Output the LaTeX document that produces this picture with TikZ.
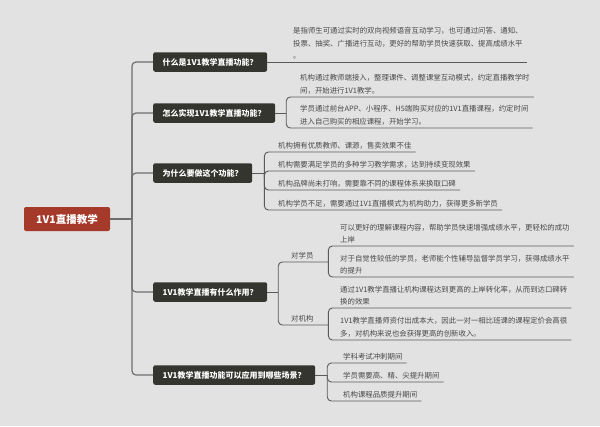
\documentclass[tikz,border=0pt]{standalone}
\usepackage{fontspec}
\setmainfont{Noto Sans CJK SC}
\definecolor{bgcol}{HTML}{E2E2E2}
\definecolor{rootcol}{HTML}{A63A2A}
\definecolor{branchcol}{HTML}{35352F}
\definecolor{linecol}{HTML}{6E6E6E}
\definecolor{leafline}{HTML}{5A5A5A}
\definecolor{leaftext}{HTML}{484848}
\begin{document}
\begin{tikzpicture}[x=1pt, y=-1pt,
    root/.style={fill=rootcol, text=white, rounded corners=2pt, minimum width=86pt, minimum height=24pt, font=\fontsize{10.5}{12}\selectfont\bfseries},
    branch/.style={anchor=west, fill=branchcol, text=white, rounded corners=2pt, inner xsep=9.5pt, minimum height=19.5pt, font=\fontsize{8}{10}\selectfont\bfseries},
    leaf/.style={anchor=south west, inner xsep=4pt, inner ysep=2.5pt, align=left, text=leaftext, font=\fontsize{7.4}{12.6}\selectfont},
    trunk/.style={draw=linecol, line width=1.2pt, rounded corners=4pt},
    twig/.style={draw=leafline, line width=0.9pt, rounded corners=4pt}]

    \fill[bgcol] (0,0) rectangle (600,426);
    \useasboundingbox (0,0) rectangle (600,426);

    \node[root] (root) at (67,219) {1V1直播教学};
    \coordinate (hub) at (132,219);

    \node[branch] (b1) at (153,62) {什么是1V1教学直播功能？};
    \node[branch] (b2) at (153,113) {怎么实现1V1教学直播功能？};
    \node[branch] (b3) at (153,173) {为什么要做这个功能？};
    \node[branch] (b4) at (153,292) {1V1教学直播有什么作用？};
    \node[branch] (b5) at (153,375) {1V1教学直播功能可以应用到哪些场景？};

    \draw[trunk] (root.east) -- (hub);
    \foreach \b in {b1,b2,b3,b4,b5} {
      \draw[trunk] (hub) |- (\b.west);
    }

    \node[leaf] (l11) at (289,62) {是指师生可通过实时的双向视频语音互动学习，也可通过问答、通知、\\投票、抽奖、广播进行互动，更好的帮助学员快速获取、提高成绩水平\\。};
    \draw[twig] (b1.east) -- (l11.south east);

    \coordinate (k2) at ([xshift=11pt]b2.east);
    \node[leaf] (l21) at (296,97) {机构通过教师端接入，整理课件、调整课堂互动模式，约定直播教学时\\间，开始进行1V1教学。};
    \node[leaf] (l22) at (296,128) {学员通过前台APP、小程序、H5端购买对应的1V1直播课程，约定时间\\进入自己购买的相应课程，开始学习。};
    \draw[twig] (b2.east) -- (k2);
    \foreach \l in {l21,l22} {
      \draw[twig] (k2) |- (\l.south east);
    }

    \coordinate (k3) at ([xshift=12pt]b3.east);
    \node[leaf] (l31) at (274,152) {机构拥有优质教师、课源，售卖效果不佳};
    \node[leaf] (l32) at (274,171) {机构需要满足学员的多种学习教学需求，达到持续变现效果};
    \node[leaf] (l33) at (274,190) {机构品牌尚未打响，需要靠不同的课程体系来换取口碑};
    \node[leaf] (l34) at (274,210) {机构学员不足，需要通过1V1直播模式为机构助力，获得更多新学员};
    \draw[twig] (b3.east) -- (k3);
    \foreach \l in {l31,l32,l33,l34} {
      \draw[twig] (k3) |- (\l.south east);
    }

    \coordinate (k4) at ([xshift=11pt]b4.east);
    \node[leaf, text width=33pt] (s41) at (287,262) {对学员};
    \node[leaf, text width=33pt] (s42) at (287,325) {对机构};
    \draw[twig] (b4.east) -- (k4);
    \draw[twig] (k4) |- (s41.south east);
    \draw[twig] (k4) |- (s42.south east);

    \node[leaf] (l411) at (336,246) {可以更好的理解课程内容，帮助学员快速增强成绩水平，更轻松的成功\\上岸};
    \node[leaf] (l412) at (336,277) {对于自觉性较低的学员，老师能个性辅导监督学员学习，获得成绩水平\\的提升};
    \foreach \l in {l411,l412} {
      \draw[twig] (s41.south east) |- (\l.south east);
    }

    \node[leaf] (l421) at (336,308) {通过1V1教学直播让机构课程达到更高的上岸转化率，从而到达口碑转\\换的效果};
    \node[leaf] (l422) at (336,340) {1V1教学直播师资付出成本大，因此一对一相比班课的课程定价会高很\\多，对机构来说也会获得更高的创新收入。};
    \foreach \l in {l421,l422} {
      \draw[twig] (s42.south east) |- (\l.south east);
    }

    \coordinate (k5) at ([xshift=12pt]b5.east);
    \node[leaf] (l51) at (339,363) {学科考试冲刺期间};
    \node[leaf] (l52) at (339,382) {学员需要高、精、尖提升期间};
    \node[leaf] (l53) at (339,401) {机构课程品质提升期间};
    \draw[twig] (b5.east) -- (k5);
    \foreach \l in {l51,l52,l53} {
      \draw[twig] (k5) |- (\l.south east);
    }

\end{tikzpicture}
\end{document}
